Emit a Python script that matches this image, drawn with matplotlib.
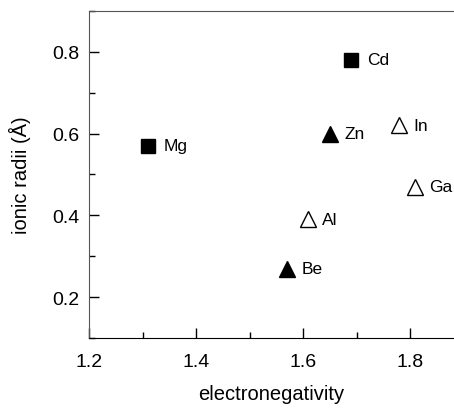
import matplotlib.pyplot as plt
from matplotlib.ticker import MultipleLocator

plt.rcParams['font.family'] = ['Liberation Sans', 'DejaVu Sans']

# square: Mg, Cd ; filled triangle: Be, Zn ; open triangle: Al, Ga, In
sq_names = ['Mg', 'Cd']
sq_x = [1.31, 1.69]
sq_y = [0.57, 0.78]

tf_names = ['Be', 'Zn']
tf_x = [1.57, 1.65]
tf_y = [0.27, 0.60]

to_names = ['Al', 'Ga', 'In']
to_x = [1.61, 1.81, 1.78]
to_y = [0.39, 0.47, 0.62]

fig = plt.figure(figsize=(4.54, 4.10), dpi=100)
ax = fig.add_axes([0.196, 0.173, 0.804, 0.798])

ax.plot(sq_x, sq_y, 's', color='black', ms=9.5, ls='none')
ax.plot(tf_x, tf_y, '^', color='black', ms=11.5, ls='none')
ax.plot(to_x, to_y, '^', mfc='white', mec='black', mew=1.0, ms=11.5, ls='none')

for names, xs, ys, off in [(sq_names, sq_x, sq_y, 11.5), (tf_names, tf_x, tf_y, 10.5), (to_names, to_x, to_y, 10)]:
    for n, x, y in zip(names, xs, ys):
        ax.annotate(n, (x, y), xytext=(off, 0), textcoords='offset points',
                    va='center', ha='left', fontsize=12.5)

ax.set_xlim(1.2, 1.882)
ax.set_ylim(0.1, 0.9)
ax.xaxis.set_minor_locator(MultipleLocator(0.1))
ax.yaxis.set_minor_locator(MultipleLocator(0.1))
ax.set_xticks([1.2, 1.4, 1.6, 1.8])
ax.set_yticks([0.2, 0.4, 0.6, 0.8])
ax.tick_params(which='both', direction='in', labelsize=14, width=1)
ax.tick_params(which='major', length=7)
ax.tick_params(axis='x', which='major', pad=11)
ax.tick_params(axis='y', which='major', pad=7)
ax.tick_params(which='minor', length=4.5)
ax.spines['right'].set_visible(False)
for s in ['left', 'top']:
    ax.spines[s].set_color('#555555')

ax.set_xlabel('electronegativity', fontsize=14.5, labelpad=10)
ax.set_ylabel('ionic radii (Å)', fontsize=14.5, labelpad=15)

fig.savefig('out.png', dpi=100)
